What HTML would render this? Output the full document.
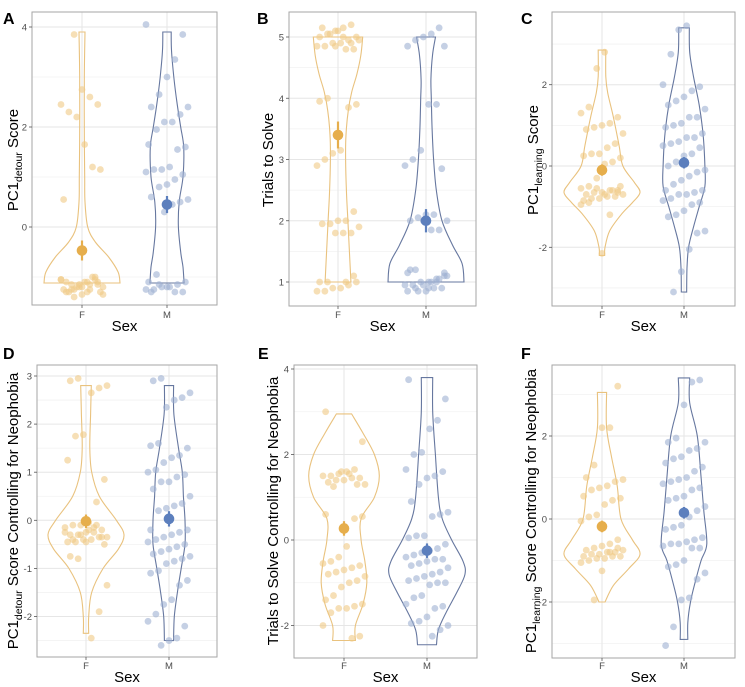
<!DOCTYPE html>
<html><head><meta charset="utf-8"><style>
html,body{margin:0;padding:0;background:#fff;}
svg{display:block;font-family:"Liberation Sans",Arial,sans-serif;}
</style></head><body>
<svg id="fig" width="745" height="687" viewBox="0 0 745 687"></svg>
<script>
// ---------- data ----------
const categories = ["F","M"];
const panelLetters = ["A","B","C","D","E","F"];
const ticksA = [0,2,4], ticksB = [1,2,3,4,5], ticksC = [-2,0,2], ticksD = [-2,-1,0,1,2,3], ticksE = [-2,0,2,4], ticksF = [-2,0,2];

const A_F = [-1.05,-1.1,-1.15,-1.2,-1.25,-1.3,-1.35,-1.05,-1.1,-1.2,-1.15,-1.25,-1.3,-1.0,-1.1,-1.2,-1.3,-1.05,-1.15,-1.25,-1.35,-1.4,-1.1,-1.2,-1.0,-1.3,-1.15,-1.25,0.55,1.15,1.2,1.65,2.2,2.3,2.45,2.45,2.6,2.75,3.85];
const A_M = [4.05,3.85,3.35,3.0,2.65,2.4,2.4,2.25,2.1,2.1,1.95,1.65,1.6,1.55,1.2,1.15,1.15,1.1,1.05,0.95,0.85,0.8,0.6,0.55,0.5,0.45,0.3,-0.95,-1.1,-1.1,-1.15,-1.2,-1.2,-1.25,-1.25,-1.3,-1.3,-1.2,-1.15,-1.3];
const B_F = [5.2,5.15,5.1,5.05,5.0,5.0,4.95,4.9,4.9,4.85,4.85,4.8,4.8,5.1,5.05,5.15,4.95,4.9,5.0,4.85,4.0,3.95,3.9,3.85,3.15,3.1,3.0,2.9,2.15,2.0,2.0,1.95,1.95,1.9,1.8,1.8,1.8,1.0,1.0,1.0,0.95,0.9,0.9,0.85,0.85,1.1,1.0];
const B_M = [5.15,5.05,5.0,4.95,4.85,4.85,3.9,3.9,3.15,3.0,2.9,2.85,2.1,2.1,2.05,2.0,2.0,1.85,1.85,2.0,1.2,1.15,1.1,1.05,1.0,1.0,0.95,0.95,0.9,0.9,0.85,0.85,1.2,1.1,1.05,1.0,0.95,0.9,0.85,1.15,1.0,0.9];
const C_F = [2.8,2.4,1.45,1.3,1.2,1.05,1.0,0.95,0.9,0.8,0.55,0.45,0.3,0.3,0.25,0.2,0.1,0.05,-0.3,-0.5,-0.55,-0.6,-0.6,-0.65,-0.65,-0.7,-0.7,-0.75,-0.75,-0.8,-0.8,-0.85,-0.5,-0.6,-0.7,-0.55,-0.9,-0.95,-0.65,-1.2,-2.15];
const C_M = [3.45,3.35,2.75,2.0,1.95,1.85,1.7,1.6,1.5,1.4,1.2,1.2,1.05,1.0,0.95,0.8,0.7,0.7,0.6,0.55,0.5,0.45,0.3,0.25,0.1,0.0,-0.1,-0.15,-0.25,-0.35,-0.45,-0.6,-0.6,-0.65,-0.7,-0.7,-0.8,-0.85,-0.9,-0.95,-1.1,-1.2,-1.25,-1.6,-1.65,-2.05,-2.6,-3.1];
const D_F = [2.95,2.9,2.8,2.75,2.65,1.78,1.75,1.25,0.85,0.38,-0.05,-0.1,-0.1,-0.15,-0.2,-0.25,-0.25,-0.3,-0.3,-0.35,-0.35,-0.4,-0.4,-0.45,-0.45,-0.5,-0.1,-0.2,-0.3,-0.4,-0.25,-0.35,-0.15,-0.45,-0.8,-0.75,-1.35,-1.9,-2.45];
const D_M = [2.95,2.9,2.65,2.55,2.5,2.35,1.6,1.55,1.5,1.35,1.3,1.2,1.05,1.0,0.95,0.9,0.8,0.8,0.65,0.5,0.35,0.3,0.25,0.2,-0.2,-0.2,-0.25,-0.3,-0.35,-0.4,-0.45,-0.5,-0.55,-0.6,-0.65,-0.7,-0.75,-0.8,-0.85,-0.9,-1.05,-1.1,-1.25,-1.35,-1.65,-1.75,-1.95,-2.1,-2.2,-2.45,-2.5,-2.6];
const E_F = [3.0,2.3,1.65,1.6,1.55,1.5,1.5,1.45,1.45,1.4,1.4,1.35,1.3,1.3,1.55,1.6,1.25,0.6,0.55,0.5,-0.15,-0.4,-0.5,-0.55,-0.6,-0.65,-0.7,-0.75,-0.8,-0.85,-0.95,-1.0,-1.1,-1.3,-1.4,-1.5,-1.55,-1.6,-1.6,-1.7,-2.0,-2.25,-2.3];
const E_M = [3.75,3.3,2.8,2.6,2.05,2.0,1.65,1.6,1.5,1.45,1.3,0.9,0.65,0.6,0.55,0.1,0.1,0.05,-0.1,-0.2,-0.25,-0.3,-0.35,-0.4,-0.45,-0.45,-0.5,-0.55,-0.6,-0.65,-0.75,-0.8,-0.85,-0.9,-0.95,-1.0,-1.0,-1.05,-1.3,-1.35,-1.5,-1.55,-1.6,-1.8,-1.9,-1.95,-2.0,-2.1,-2.25];
const F_F = [3.2,2.2,2.2,1.3,1.0,0.95,0.9,0.8,0.75,0.7,0.55,0.5,0.45,0.35,0.1,0.05,-0.05,-0.5,-0.6,-0.65,-0.7,-0.75,-0.75,-0.8,-0.8,-0.85,-0.85,-0.9,-0.9,-0.9,-0.95,-0.95,-1.0,-1.05,-0.7,-0.8,-1.25,-1.95];
const F_M = [3.35,3.3,2.75,1.95,1.85,1.85,1.7,1.65,1.5,1.45,1.35,1.25,1.15,1.0,0.95,0.9,0.85,0.75,0.7,0.55,0.5,0.45,0.3,0.2,0.05,-0.15,-0.2,-0.25,-0.45,-0.5,-0.55,-0.6,-0.6,-0.65,-0.7,-0.7,-1.0,-1.1,-1.15,-1.3,-1.45,-1.9,-1.95,-2.6,-3.05];

// violin density profiles: levels (value) and relative widths (0..1)
const vA_F_lv = [-1.12,-0.9,-0.6,-0.3,0,0.5,1,2,3,3.9], vA_F_w = [1.0,0.95,0.7,0.35,0.15,0.08,0.07,0.06,0.06,0.08];
const vA_M_lv = [-1.12,-0.8,-0.5,0,0.5,1,1.6,2,2.5,3,3.5,3.9], vA_M_w = [0.45,0.42,0.36,0.3,0.32,0.42,0.44,0.36,0.26,0.18,0.12,0.11];
const vB_F_lv = [1,1.5,2,2.5,3,3.4,3.8,4.1,4.4,4.7,5], vB_F_w = [0.34,0.3,0.26,0.22,0.2,0.21,0.27,0.36,0.5,0.6,0.65];
const vB_M_lv = [1,1.3,1.6,2,2.5,3,3.5,4,4.3,4.7,5], vB_M_w = [1.0,0.95,0.7,0.42,0.27,0.2,0.16,0.14,0.13,0.17,0.25];
const vC_F_lv = [-2.2,-2.0,-1.6,-1.2,-0.9,-0.65,-0.4,0,0.5,1.2,1.8,2.2,2.85], vC_F_w = [0.07,0.08,0.2,0.5,0.8,1.0,0.85,0.55,0.45,0.3,0.15,0.1,0.1];
const vC_M_lv = [-3.1,-2.5,-2,-1.5,-1,-0.5,0,0.8,1.5,2.2,2.8,3.4], vC_M_w = [0.07,0.08,0.12,0.25,0.4,0.55,0.55,0.5,0.4,0.25,0.15,0.14];
const vD_F_lv = [-2.35,-2,-1.5,-1.0,-0.6,-0.3,0,0.5,1.0,1.5,2.2,2.8], vD_F_w = [0.07,0.07,0.15,0.45,0.85,1.0,0.8,0.35,0.15,0.1,0.12,0.14];
const vD_M_lv = [-2.5,-2,-1.5,-1,-0.5,0,0.5,1,1.5,2.2,2.8], vD_M_w = [0.12,0.14,0.22,0.32,0.42,0.42,0.38,0.35,0.25,0.13,0.12];
const vE_F_lv = [-2.35,-2,-1.5,-1,-0.5,0,0.5,1,1.5,2,2.5,2.95], vE_F_w = [0.3,0.3,0.5,0.6,0.55,0.45,0.45,0.8,0.93,0.8,0.5,0.2];
const vE_M_lv = [-2.45,-2.1,-1.7,-1.2,-0.8,-0.5,0,0.5,1,2,3,3.8], vE_M_w = [0.25,0.3,0.5,0.8,1.0,0.95,0.65,0.4,0.3,0.22,0.15,0.15];
const vF_F_lv = [-2.0,-1.6,-1.2,-0.85,-0.5,0,0.8,1.5,2.2,3.05], vF_F_w = [0.08,0.3,0.7,1.0,0.8,0.5,0.4,0.25,0.12,0.12];
const vF_M_lv = [-2.9,-2.5,-2,-1.5,-1,-0.6,0.2,1,2,2.8,3.4], vF_M_w = [0.1,0.1,0.17,0.3,0.45,0.6,0.52,0.45,0.35,0.15,0.15];

const meansF = [-0.47,3.4,-0.1,-0.02,0.27,-0.18], meansM = [0.45,2.0,0.08,0.03,-0.25,0.15];
const seF = [0.2,0.22,0.14,0.14,0.17,0.14], seM = [0.17,0.19,0.14,0.16,0.17,0.14];

// ---------- layout ----------
const panels = [
 {L:"A",x0:32,x1:217,y0:12,y1:305,xF:82,xM:167,v0:0,p0:227,v1:4,p1:27,ticks:ticksA,minor:1,tx:13,ty:160,title:["PC1","detour"," Score"],lx:3,ly:24,sexY:331,catY:318,F:A_F,M:A_M,vF:[vA_F_lv,vA_F_w],vM:[vA_M_lv,vA_M_w]},
 {L:"B",x0:289,x1:476,y0:12,y1:306,xF:338,xM:426,v0:1,p0:282,v1:5,p1:37,ticks:ticksB,minor:0.5,tx:268,ty:160,title:["Trials to Solve"],lx:257,ly:24,sexY:331,catY:318,F:B_F,M:B_M,vF:[vB_F_lv,vB_F_w],vM:[vB_M_lv,vB_M_w]},
 {L:"C",x0:552,x1:735,y0:12,y1:306,xF:602,xM:684,v0:0,p0:166,v1:2,p1:84.7,ticks:ticksC,minor:1,tx:533,ty:160,title:["PC1","learning"," Score"],lx:521,ly:24,sexY:331,catY:318,F:C_F,M:C_M,vF:[vC_F_lv,vC_F_w],vM:[vC_M_lv,vC_M_w]},
 {L:"D",x0:37,x1:217,y0:365,y1:657,xF:86,xM:169,v0:0,p0:520.3,v1:3,p1:376,ticks:ticksD,minor:0.5,tx:13,ty:511,title:["PC1","detour"," Score Controlling for Neophobia"],lx:3,ly:359,sexY:682,catY:669,F:D_F,M:D_M,vF:[vD_F_lv,vD_F_w],vM:[vD_M_lv,vD_M_w]},
 {L:"E",x0:294,x1:477,y0:365,y1:658,xF:344,xM:427,v0:0,p0:540,v1:4,p1:369,ticks:ticksE,minor:1,tx:273,ty:511,title:["Trials to Solve Controlling for Neophobia"],lx:258,ly:359,sexY:682,catY:669,F:E_F,M:E_M,vF:[vE_F_lv,vE_F_w],vM:[vE_M_lv,vE_M_w]},
 {L:"F",x0:552,x1:735,y0:365,y1:658,xF:602,xM:684,v0:0,p0:519,v1:2,p1:436,ticks:ticksF,minor:1,tx:531,ty:511,title:["PC1","learning"," Score Controlling for Neophobia"],lx:521,ly:359,sexY:682,catY:669,F:F_F,M:F_M,vF:[vF_F_lv,vF_F_w],vM:[vF_M_lv,vF_M_w]}
];
const NS="http://www.w3.org/2000/svg";
const svg=document.getElementById('fig');
function mk(tag,attrs,parent){const e=document.createElementNS(NS,tag);for(const k in attrs)e.setAttribute(k,attrs[k]);(parent||svg).appendChild(e);return e;}
const colF={stroke:"#e9c27e",pt:"#f0c986",mean:"#e6ae4c"}, colM={stroke:"#66779f",pt:"#9fb0d2",mean:"#5c7fbd"};
const HALF=38;

function smoothPath(pts){ // Catmull-Rom through points
  let d=`M${pts[0][0]},${pts[0][1]}`;
  for(let i=0;i<pts.length-1;i++){
    const p0=pts[Math.max(0,i-1)],p1=pts[i],p2=pts[i+1],p3=pts[Math.min(pts.length-1,i+2)];
    const c1=[p1[0]+(p2[0]-p0[0])/6,p1[1]+(p2[1]-p0[1])/6],c2=[p2[0]-(p3[0]-p1[0])/6,p2[1]-(p3[1]-p1[1])/6];
    d+=` C${c1[0].toFixed(1)},${c1[1].toFixed(1)} ${c2[0].toFixed(1)},${c2[1].toFixed(1)} ${p2[0].toFixed(1)},${p2[1].toFixed(1)}`;
  }
  return d;
}

panels.forEach((P,pi)=>{
  const g=mk('g',{});
  
  
  const y=v=>P.p0+(v-P.v0)*(P.p1-P.p0)/(P.v1-P.v0);
  const vAt=p=>P.v0+(p-P.p0)*(P.v1-P.v0)/(P.p1-P.p0);
  // grid
  const vmin=vAt(P.y1), vmax=vAt(P.y0);
  const step=P.ticks[1]-P.ticks[0];
  for(let v=Math.ceil(vmin/(step/2))*(step/2); v<=vmax; v+=step/2){
    const isMaj=Math.abs(v/step-Math.round(v/step))<1e-6;
    const gl=mk('line',{x1:P.x0,x2:P.x1,y1:y(v),y2:y(v),stroke:isMaj?"#e6e6e6":"#f2f2f2","stroke-width":isMaj?1:0.8},g);
    
    
  }
  [P.xF,P.xM].forEach(x=>{const vl=mk('line',{x1:x,x2:x,y1:P.y0,y2:P.y1,stroke:"#e6e6e6","stroke-width":1},g);
    });
  // violins
  [[P.vF,P.xF,colF,'f'],[P.vM,P.xM,colM,'m']].forEach(([vd,cx,col,s])=>{
    const lv=vd[0],w=vd[1];
    const right=lv.map((v,i)=>[cx+w[i]*HALF,y(v)]);
    const left=lv.map((v,i)=>[cx-w[i]*HALF,y(v)]).reverse();
    let d=smoothPath(right)+" L"+left[0][0].toFixed(1)+","+left[0][1].toFixed(1)+smoothPath(left).replace(/^M[^C]*/,' ')+" Z";
    const vp=mk('path',{d:d,fill:"none",stroke:col.stroke,"stroke-width":1.1},g);
    
    
  });
  // points
  [[P.F,P.xF,colF,'f'],[P.M,P.xM,colM,'m']].forEach(([arr,cx,col,s])=>{
    arr.forEach((v,i)=>{
      const off=(((i*7919+pi*13)%17)/16-0.5)*2*21;
      const c=mk('circle',{cx:cx+off,cy:y(v),r:3.4,fill:col.pt,"fill-opacity":0.6},g);
      
      
    });
  });
  // means
  [[meansF[pi],seF[pi],P.xF,colF,'f'],[meansM[pi],seM[pi],P.xM,colM,'m']].forEach(([m,se,cx,col,s])=>{
    const el=mk('line',{x1:cx,x2:cx,y1:y(m-se),y2:y(m+se),stroke:col.mean,"stroke-width":2.2},g);
    
    
    const mc=mk('circle',{cx:cx,cy:y(m),r:5.3,fill:col.mean},g);
    
    
  });
  // frame
  const fr=mk('rect',{x:P.x0,y:P.y0,width:P.x1-P.x0,height:P.y1-P.y0,fill:"none",stroke:"#a6a6a6","stroke-width":1},g);
  
  
  // y ticks
  P.ticks.forEach(t=>{
    const yy=y(t);
    const tk=mk('line',{x1:P.x0-3,x2:P.x0,y1:yy,y2:yy,stroke:"#555","stroke-width":0.8},g);
    
    
    const tl=mk('text',{x:P.x0-5,y:yy+3.5,"text-anchor":"end","font-size":9.5,fill:"#4d4d4d"},g);
    tl.textContent=String(t);
    
    
  });
  // x ticks
  [[P.xF,categories[0]],[P.xM,categories[1]]].forEach(([x,c])=>{
    const tk=mk('line',{x1:x,x2:x,y1:P.y1,y2:P.y1+3,stroke:"#555","stroke-width":0.8},g);
    
    
    const tl=mk('text',{x:x,y:P.catY,"text-anchor":"middle","font-size":9.5,fill:"#4d4d4d"},g);
    tl.textContent=c;
    
    
  });
  const sx=mk('text',{x:(P.x0+P.x1)/2,y:P.sexY,"text-anchor":"middle","font-size":15,fill:"#000"},g);
  sx.textContent="Sex";
  
  
  // y title
  const yt=mk('text',{x:0,y:0,"text-anchor":"middle","font-size":15,fill:"#000",transform:`translate(${P.tx+5},${P.ty}) rotate(-90)`},g);
  
  
  if(P.title.length===1){yt.textContent=P.title[0];}
  else{
    const a=mk('tspan',{},yt);a.textContent=P.title[0];
    const b=mk('tspan',{"font-size":10.5,dy:4},yt);b.textContent=P.title[1];
    const c=mk('tspan',{dy:-4},yt);c.textContent=P.title[2];
  }
  const lt=mk('text',{x:P.lx,y:P.ly,"font-size":16,"font-weight":"bold",fill:"#000"},g);
  lt.textContent=P.L;
  
  
});
</script>
</body></html>
